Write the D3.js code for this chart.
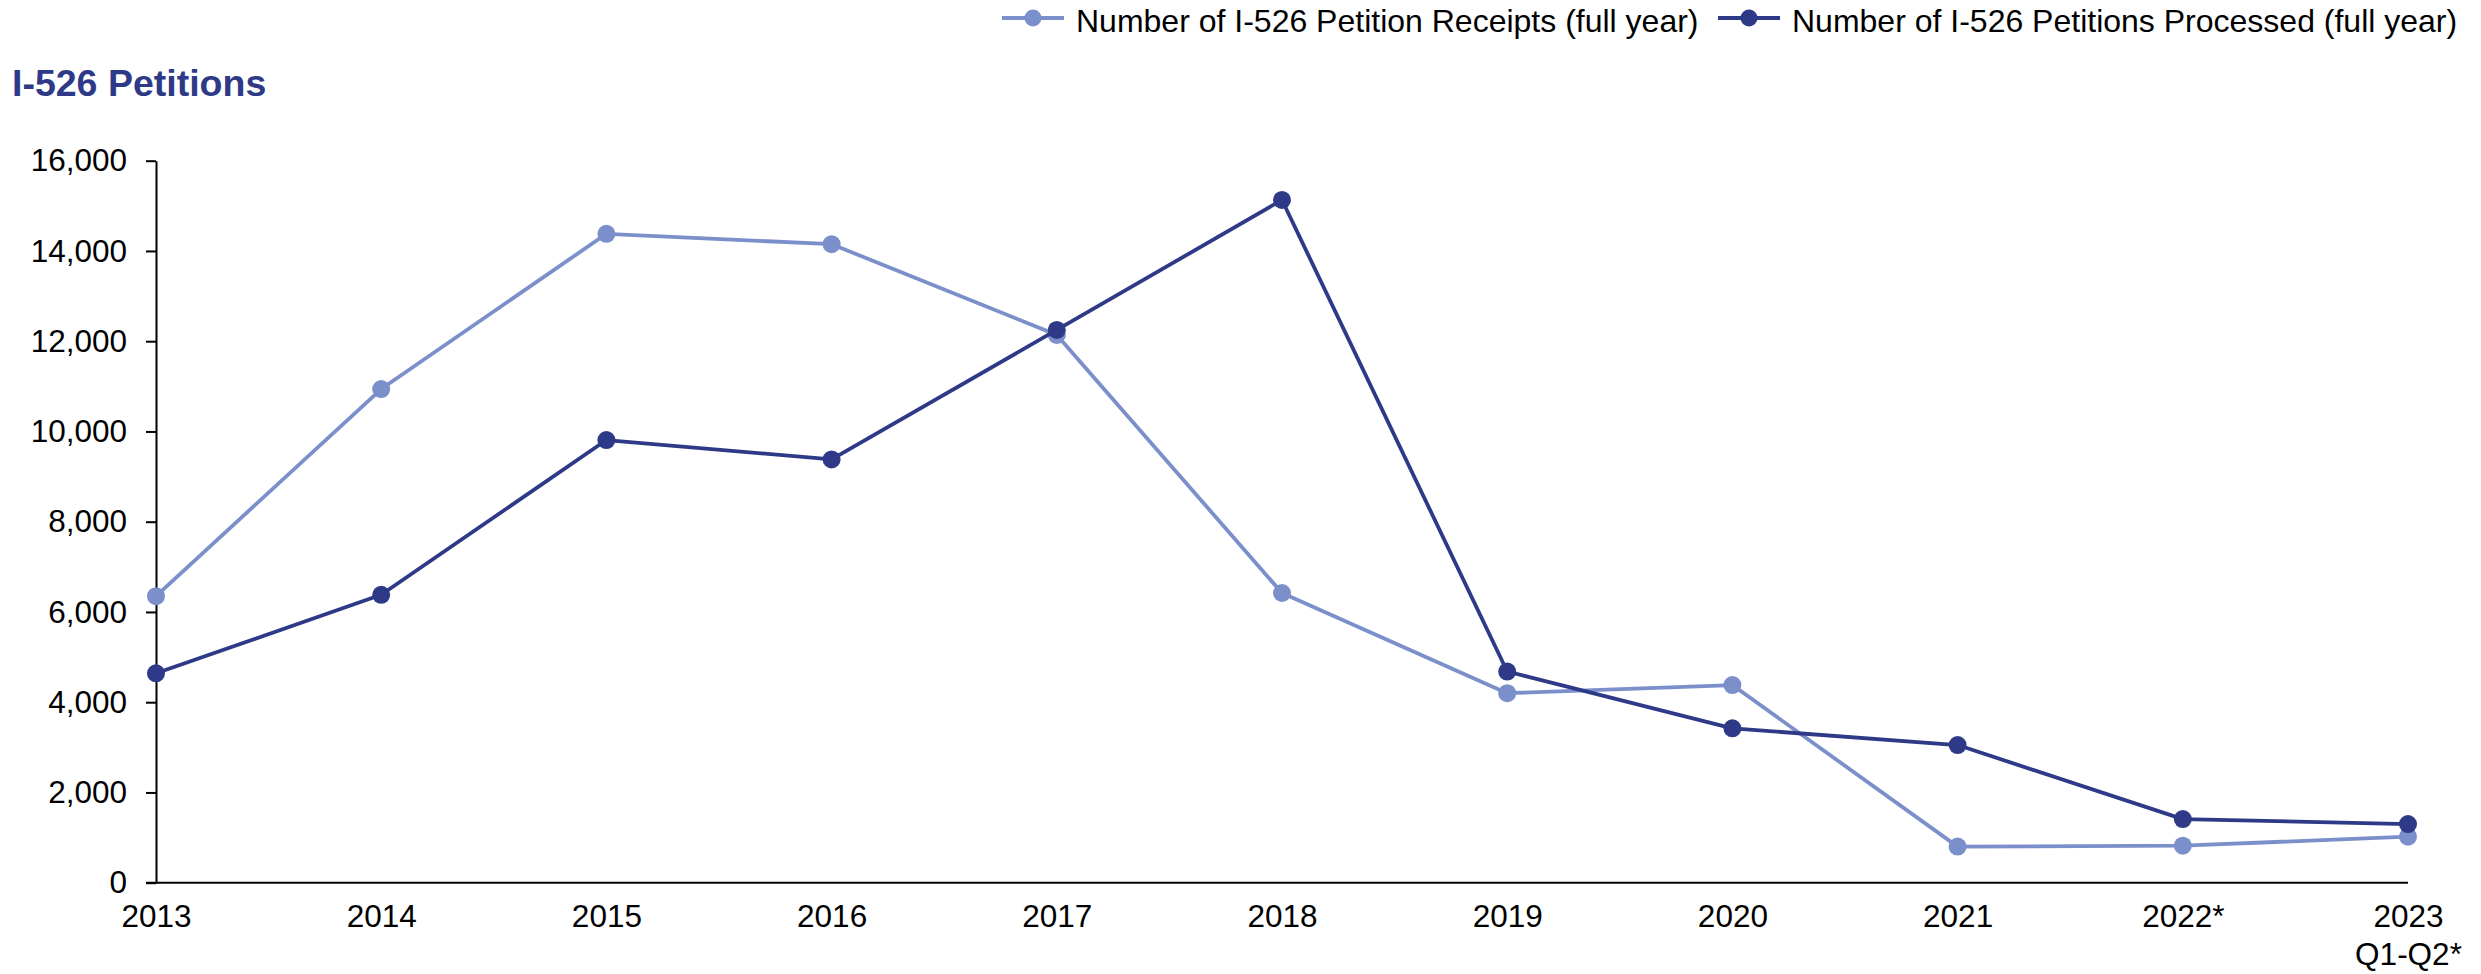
<!DOCTYPE html>
<html>
<head>
<meta charset="utf-8">
<script src="https://cdn.jsdelivr.net/npm/d3@7"></script>
<style>
  html, body { margin: 0; padding: 0; background: #fff; }
  svg text { font-family: "Liberation Sans", Arial, sans-serif; }
</style>
</head>
<body>
<div id="chart"></div>
<script>
// chart data
const years = ["2013", "2014", "2015", "2016", "2017", "2018", "2019", "2020", "2021", "2022*", "2023\nQ1-Q2*"];
const receipts = [6350, 10940, 14380, 14150, 12140, 6420, 4200, 4380, 800, 820, 1020];
const processed = [4640, 6380, 9810, 9380, 12250, 15130, 4680, 3420, 3050, 1410, 1300];
const yTicks = [0, 2000, 4000, 6000, 8000, 10000, 12000, 14000, 16000];

const seriesNames = [
    "Number of I-526 Petition Receipts (full year)",
    "Number of I-526 Petitions Processed (full year)"
];
const colors = ["#7B8FCA", "#2E3A87"];

const width = 2481, height = 974;

const svg = d3.select("#chart")
    .append("svg")
    .attr("width", width)
    .attr("height", height);

const x = d3.scalePoint()
    .domain(years)
    .range([156, 2408]);

const y = d3.scaleLinear()
    .domain([0, 16000])
    .range([882.7, 160.7]);

// title
svg.append("text")
    .attr("x", 12)
    .attr("y", 96)
    .attr("font-size", 37.5)
    .attr("font-weight", "bold")
    .attr("fill", "#2E3A87")
    .text("I-526 Petitions");

// y axis
const yAxis = svg.append("g")
    .attr("transform", `translate(${x.range()[0]},0)`)
    .call(d3.axisLeft(y)
        .tickValues(yTicks)
        .tickFormat(d3.format(","))
        .tickSize(10)
        .tickSizeOuter(0)
        .tickPadding(19));
yAxis.selectAll("path, line").attr("stroke", "#000").attr("stroke-width", 2);
yAxis.selectAll("text").attr("font-size", 31.5).attr("fill", "#000")
    .attr("font-family", "'Liberation Sans', Arial, sans-serif");

// x axis
const xAxis = svg.append("g")
    .attr("transform", `translate(0,${y(0)})`)
    .call(d3.axisBottom(x).tickSize(0).tickSizeOuter(0).tickPadding(22));
xAxis.select("path").attr("stroke", "#000").attr("stroke-width", 2)
    .attr("d", `M${x.range()[0] - 10},0H${x.range()[1]}`);
xAxis.selectAll("text")
    .attr("font-size", 31.5).attr("fill", "#000")
    .attr("font-family", "'Liberation Sans', Arial, sans-serif")
    .each(function(d) {
        const parts = d.split("\n");
        const t = d3.select(this).text(null);
        parts.forEach((p, i) => {
            t.append("tspan")
                .attr("x", 0)
                .attr("dy", i === 0 ? "0.71em" : "1.2em")
                .text(p);
        });
    })
    .attr("dy", null);

// lines + markers
const line = d3.line()
    .x((d, i) => x(years[i]))
    .y(d => y(d));

[receipts, processed].forEach((vals, k) => {
    svg.append("path")
        .datum(vals)
        .attr("fill", "none")
        .attr("stroke", colors[k])
        .attr("stroke-width", 3.8)
        .attr("stroke-linejoin", "round")
        .attr("d", line);
    svg.append("g")
        .selectAll("circle")
        .data(vals)
        .join("circle")
        .attr("cx", (d, i) => x(years[i]))
        .attr("cy", d => y(d))
        .attr("r", 9)
        .attr("fill", colors[k]);
});

// legend
const legendX = [1002, 1718];
const legend = svg.append("g")
    .selectAll("g")
    .data(seriesNames)
    .join("g")
    .attr("transform", (d, i) => `translate(${legendX[i]},18)`);
legend.append("line")
    .attr("x1", 0).attr("x2", 62)
    .attr("stroke", (d, i) => colors[i])
    .attr("stroke-width", 3.8);
legend.append("circle")
    .attr("cx", 31).attr("r", 8.5)
    .attr("fill", (d, i) => colors[i]);
legend.append("text")
    .attr("x", 74)
    .attr("y", 13.5)
    .attr("font-size", 32)
    .attr("fill", "#000")
    .text(d => d);
</script>
</body>
</html>
